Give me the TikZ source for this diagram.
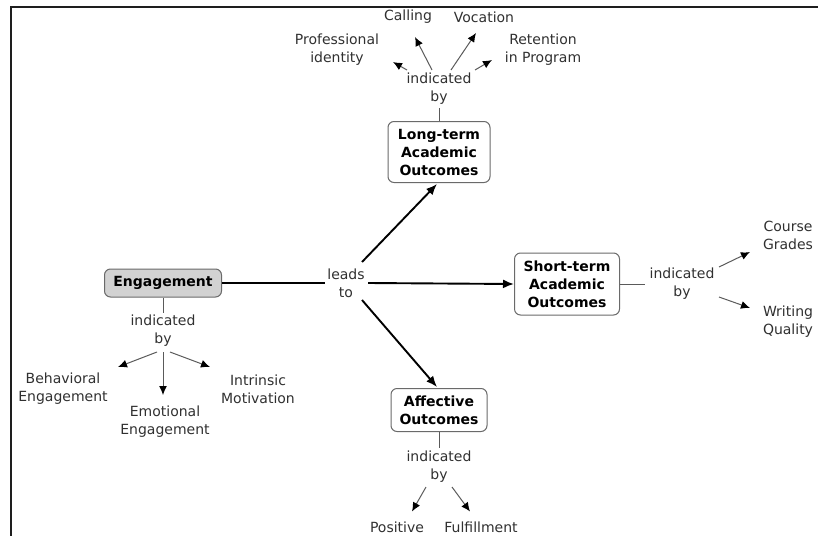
\documentclass[tikz,border=0pt]{standalone}
\usepackage{fontspec}
\setmainfont{DejaVu Sans}
\usetikzlibrary{arrows.meta}
\definecolor{txt}{HTML}{303030}
\definecolor{bord}{HTML}{6A6A6A}
\definecolor{engfill}{HTML}{D2D2D2}
\definecolor{thinc}{HTML}{5A5A5A}
\definecolor{framec}{HTML}{1E1E1E}
\begin{document}
\begin{tikzpicture}[x=1pt,y=-1pt,
  every node/.style={font=\fontsize{14}{18}\selectfont, align=center},
  concept/.style={draw=bord, line width=1pt, rounded corners=6pt,
    font=\fontsize{14}{18}\selectfont\bfseries, text=black, inner sep=0pt},
  leaf/.style={text=txt, inner sep=2pt},
  linkph/.style={text=txt, inner sep=2pt},
  bigarrow/.style={draw=black, line width=1.9pt, -{Latex[length=11pt,width=9pt]}},
  bigline/.style={draw=black, line width=1.9pt},
  thinline/.style={draw=thinc, line width=1pt},
  thinarrow/.style={draw=thinc, line width=1pt, -{Latex[length=9pt,width=8pt,color=black]}}]
\useasboundingbox (0,0) rectangle (818,535);
% frame
\draw[framec, line width=2.3pt] (11,536) -- (11,7) -- (819,7);
% concepts
\node[concept, fill=engfill, minimum width=117, minimum height=28] (eng) at (163,283) {Engagement};
\node[concept, minimum width=102, minimum height=61] (lt) at (439,152) {Long-term\\Academic\\Outcomes};
\node[concept, minimum width=105, minimum height=62] (st) at (567,284) {Short-term\\Academic\\Outcomes};
\node[concept, minimum width=96, minimum height=43] (af) at (439,410) {Affective\\Outcomes};
% linking phrases
\node[linkph] (leads) at (346,283) {leads\\to};
\node[linkph] (ibE) at (163,331) {indicated\\by};
\node[linkph] (ibL) at (439,89) {indicated\\by};
\node[linkph] (ibS) at (682,284) {indicated\\by};
\node[linkph] (ibA) at (439,467) {indicated\\by};
% leaves
\node[leaf] (calling) at (408,17) {Calling};
\node[leaf] (vocation) at (484,17) {Vocation};
\node[leaf] (prof) at (337,50) {Professional\\identity};
\node[leaf] (ret) at (543,50) {Retention\\in Program};
\node[leaf] (beh) at (63,389) {Behavioral\\Engagement};
\node[leaf] (emo) at (165,422) {Emotional\\Engagement};
\node[leaf] (intr) at (258,389) {Intrinsic\\Motivation};
\node[leaf] (course) at (788,235) {Course\\Grades};
\node[leaf] (writing) at (788,322) {Writing\\Quality};
\node[leaf, anchor=base] (positive) at (397,532.5) {Positive};
\node[leaf, anchor=base] (fulfill) at (481,532.5) {Fulfillment};
% leads to
\draw[bigline] (eng.east) -- ([shift={(-21,0)}]leads.center);
\draw[bigarrow] ([shift={(16,-21)}]leads.center) -- ([shift={(-2,32)}]lt.center);
\draw[bigarrow] ([shift={(22,0)}]leads.center) -- (st.west);
\draw[bigarrow] ([shift={(16,17)}]leads.center) -- ([shift={(-2,-23)}]af.center);
% engagement indicated by
\draw[thinline] (eng.south) -- ([shift={(0,-18)}]ibE.center);
\draw[thinarrow] ([shift={(-6,21)}]ibE.center) -- ([shift={(55,-22)}]beh.center);
\draw[thinarrow] ([shift={(0,21)}]ibE.center) -- ([shift={(-2,-27)}]emo.center);
\draw[thinarrow] ([shift={(7,21)}]ibE.center) -- ([shift={(-48,-22)}]intr.center);
% long-term indicated by
\draw[thinline] (lt.north) -- ([shift={(0,19)}]ibL.center);
\draw[thinarrow] ([shift={(-32,-19)}]ibL.center) -- ([shift={(56,12)}]prof.center);
\draw[thinarrow] ([shift={(-7,-19)}]ibL.center) -- ([shift={(7,20)}]calling.center);
\draw[thinarrow] ([shift={(12,-19)}]ibL.center) -- ([shift={(-8,16)}]vocation.center);
\draw[thinarrow] ([shift={(36,-19)}]ibL.center) -- ([shift={(-51,10)}]ret.center);
% short-term indicated by
\draw[thinline] (st.east) -- ([shift={(-37,0)}]ibS.center);
\draw[thinarrow] ([shift={(37,-17)}]ibS.center) -- ([shift={(-38,17)}]course.center);
\draw[thinarrow] ([shift={(37,13)}]ibS.center) -- ([shift={(-38,-14)}]writing.center);
% affective indicated by
\draw[thinline] (af.south) -- ([shift={(0,-19)}]ibA.center);
\draw[thinarrow] ([shift={(-13,20)}]ibA.center) -- ([shift={(15,-21)}]positive.base);
\draw[thinarrow] ([shift={(13,20)}]ibA.center) -- ([shift={(-11,-21)}]fulfill.base);
\end{tikzpicture}
\end{document}
